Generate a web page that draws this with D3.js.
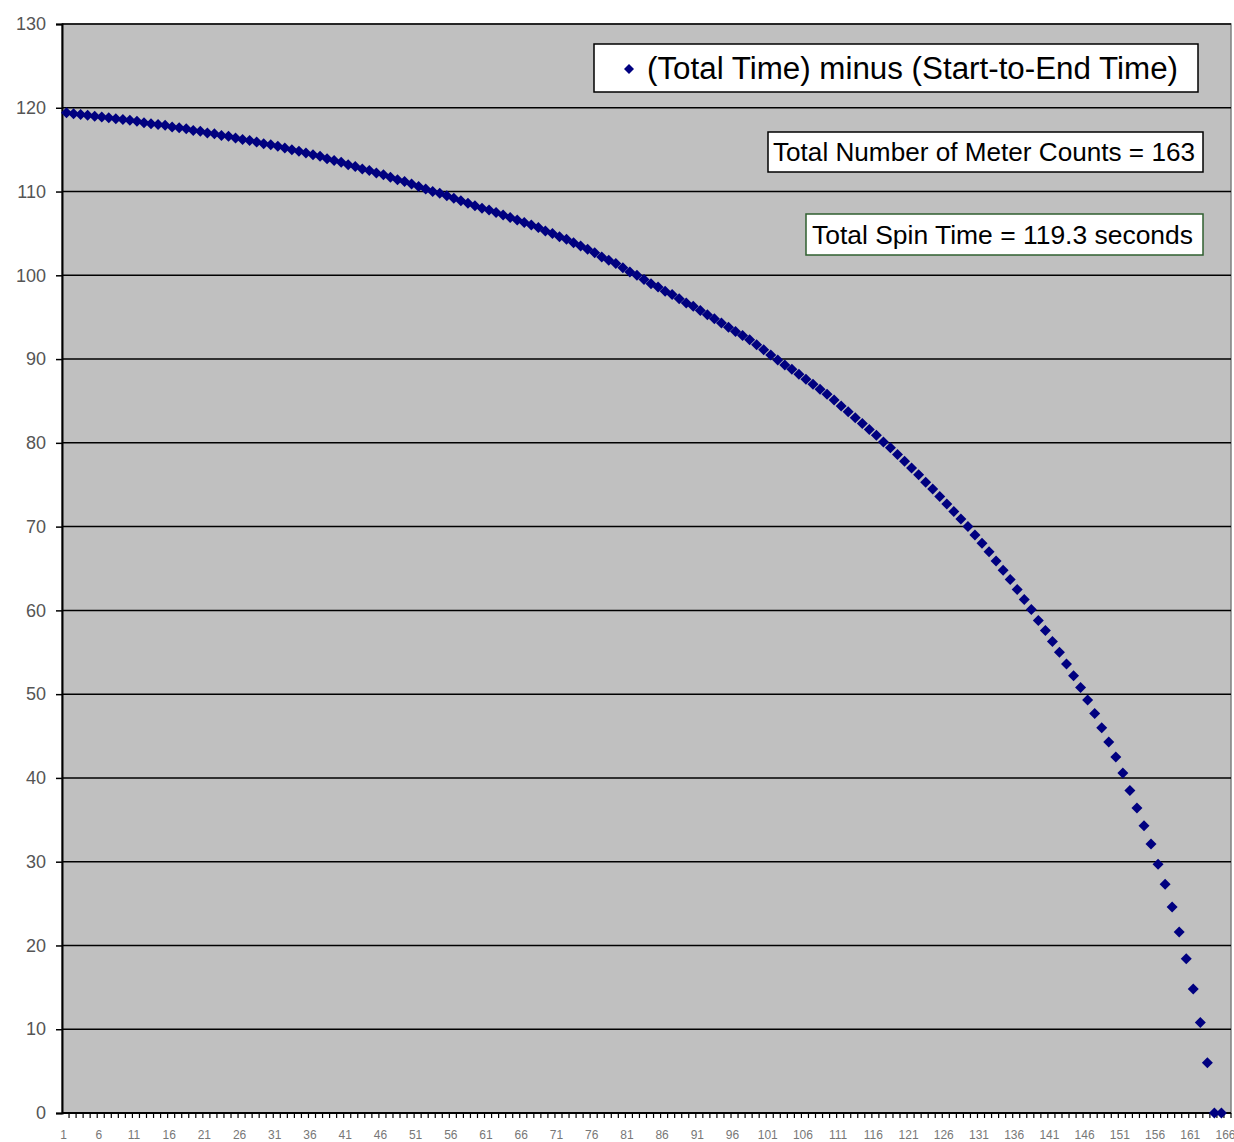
<!DOCTYPE html>
<html lang="en">
  <head>
    <meta charset="UTF-8" />
    <title>Total Time minus Start-to-End Time</title>
    <script src="https://d3js.org/d3.v7.min.js"></script>
    <style>
      body {
        margin: 0;
        background: #fff;
        font-family: "Liberation Sans", Arial, sans-serif;
      }
    </style>
  </head>
  <body>
    <svg width="1234" height="1142"></svg>
    <script>
      const svg = d3.select("svg");
      const margin = { top: 24, right: 3, bottom: 29, left: 62 };
      const width = +svg.attr("width");
      const height = +svg.attr("height");

      // category axis runs 1..166, meter counts plotted 1..165
      const categories = d3.range(1, 167);
      const values = [
        119.4, 119.3, 119.2, 119.1, 119.0, 118.9, 118.8, 118.7, 118.6, 118.5,
        118.4, 118.2, 118.1, 118.0, 117.9, 117.7, 117.6, 117.5, 117.3, 117.2,
        117.0, 116.9, 116.7, 116.6, 116.4, 116.2, 116.1, 115.9, 115.7, 115.6,
        115.4, 115.2, 115.0, 114.8, 114.6, 114.4, 114.2, 113.9, 113.7, 113.5,
        113.2, 113.0, 112.7, 112.5, 112.2, 112.0, 111.7, 111.4, 111.2, 110.9,
        110.6, 110.3, 110.0, 109.8, 109.5, 109.2, 108.9, 108.6, 108.3, 108.0,
        107.8, 107.5, 107.2, 106.9, 106.6, 106.3, 106.0, 105.7, 105.3, 105.0,
        104.6, 104.3, 103.9, 103.5, 103.1, 102.7, 102.2, 101.8, 101.4, 100.9,
        100.4, 100.0, 99.5, 99.0, 98.6, 98.1, 97.7, 97.2, 96.7, 96.3,
        95.8, 95.3, 94.8, 94.3, 93.8, 93.3, 92.8, 92.3, 91.7, 91.1,
        90.5, 89.9, 89.3, 88.8, 88.2, 87.6, 87.0, 86.4, 85.8, 85.1,
        84.4, 83.7, 83.0, 82.3, 81.6, 80.9, 80.1, 79.4, 78.6, 77.8,
        77.0, 76.2, 75.3, 74.5, 73.6, 72.7, 71.8, 70.9, 70.0, 69.0,
        68.0, 67.0, 65.9, 64.8, 63.7, 62.5, 61.3, 60.1, 58.8, 57.6,
        56.3, 55.0, 53.6, 52.2, 50.8, 49.3, 47.7, 46.0, 44.3, 42.5,
        40.6, 38.5, 36.4, 34.3, 32.1, 29.7, 27.3, 24.6, 21.6, 18.4,
        14.8, 10.8, 6.0, 0.0, 0.0
      ];
      const yTicks = d3.range(0, 131, 10);
      const xLabels = d3.range(1, 167, 5);

      const legendText = "(Total Time) minus (Start-to-End Time)";
      const countText = "Total Number of Meter Counts = 163";
      const spinText = "Total Spin Time = 119.3 seconds";

      const data = values.map((v, i) => ({ count: i + 1, value: v }));

      const x = d3
        .scaleBand()
        .domain(categories)
        .range([margin.left, width - margin.right])
        .padding(0);

      const y = d3
        .scaleLinear()
        .domain([0, 130])
        .range([height - margin.bottom, margin.top]);

      const plotW = width - margin.right - margin.left;
      const plotH = height - margin.bottom - margin.top;

      // plot area
      svg
        .append("rect")
        .attr("x", margin.left)
        .attr("y", margin.top)
        .attr("width", plotW)
        .attr("height", plotH)
        .attr("fill", "#c0c0c0")
        .attr("stroke", "#808080")
        .attr("stroke-width", 1.5);

      // gridlines
      svg
        .append("g")
        .selectAll("line")
        .data(yTicks)
        .enter()
        .append("line")
        .attr("x1", margin.left)
        .attr("x2", width - margin.right)
        .attr("y1", (d) => y(d))
        .attr("y2", (d) => y(d))
        .attr("stroke", "#000")
        .attr("stroke-width", 1.5);

      // y axis
      const yAxis = svg
        .append("g")
        .attr("transform", `translate(${margin.left},0)`)
        .call(d3.axisLeft(y).tickValues(yTicks).tickSize(6).tickPadding(10));
      yAxis.select(".domain").attr("stroke", "#000").attr("stroke-width", 2);
      yAxis.selectAll(".tick line").attr("stroke", "#000").attr("stroke-width", 1.5);
      yAxis
        .selectAll(".tick text")
        .attr("fill", "#555")
        .style("font-size", "18px")
        .style("font-family", "Liberation Sans, Arial, sans-serif");

      // x axis: tick at every category boundary, label every 5th
      const xAxisG = svg
        .append("g")
        .attr("transform", `translate(0,${height - margin.bottom})`);
      xAxisG
        .append("line")
        .attr("x1", margin.left)
        .attr("x2", width - margin.right)
        .attr("stroke", "#000")
        .attr("stroke-width", 2);
      xAxisG
        .selectAll(".tk")
        .data(categories)
        .enter()
        .append("line")
        .attr("class", "tk")
        .attr("x1", (d) => x(d) + x.bandwidth())
        .attr("x2", (d) => x(d) + x.bandwidth())
        .attr("y1", 0)
        .attr("y2", 5)
        .attr("stroke", "#000")
        .attr("stroke-width", 1.2);
      xAxisG
        .selectAll(".lbl")
        .data(xLabels)
        .enter()
        .append("text")
        .attr("class", "lbl")
        .attr("x", (d) => x(d) + x.bandwidth() / 2 - 2)
        .attr("y", 26)
        .attr("text-anchor", "middle")
        .attr("fill", "#777")
        .style("font-size", "12px")
        .text((d) => d);

      // points
      const diamond = "M0,-5.5L5.5,0L0,5.5L-5.5,0Z";
      svg
        .append("g")
        .selectAll("path")
        .data(data)
        .enter()
        .append("path")
        .attr("d", diamond)
        .attr("transform", (d) => `translate(${x(d.count) + x.bandwidth() / 2 + 1},${y(d.value)})`)
        .attr("fill", "#000080");

      // legend + text boxes
      function box(bx, by, bw, bh, stroke, label, fs, tx, tw) {
        svg
          .append("rect")
          .attr("x", bx)
          .attr("y", by)
          .attr("width", bw)
          .attr("height", bh)
          .attr("fill", "#fff")
          .attr("stroke", stroke)
          .attr("stroke-width", 1.5);
        svg
          .append("text")
          .attr("x", tx)
          .attr("y", by + bh / 2)
          .attr("dy", "0.36em")
          .attr("fill", "#000")
          .attr("textLength", tw)
          .attr("lengthAdjust", "spacingAndGlyphs")
          .style("font-size", fs + "px")
          .text(label);
      }

      box(594, 44, 604, 48, "#000", legendText, 31, 647, 531);
      svg
        .append("path")
        .attr("d", "M0,-5L5,0L0,5L-5,0Z")
        .attr("transform", "translate(629,69)")
        .attr("fill", "#000080");
      box(768, 132, 435, 40, "#000", countText, 25, 773, 422);
      box(806, 214, 397, 41, "#2f5f2f", spinText, 25, 812, 381);
    </script>
  </body>
</html>
